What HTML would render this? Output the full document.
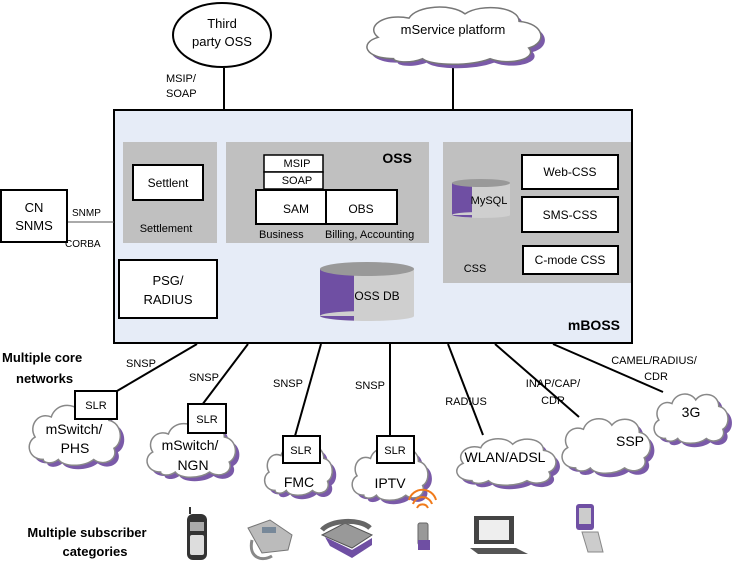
<!DOCTYPE html>
<html><head><meta charset="utf-8"><style>
html,body{margin:0;padding:0;background:#fff}
svg{display:block}
text{font-family:"Liberation Sans",Arial,sans-serif;fill:#000}
</style></head><body>
<svg width="735" height="577" viewBox="0 0 735 577" xmlns="http://www.w3.org/2000/svg">
<defs>
<symbol id="cl" viewBox="0 0 100 60" preserveAspectRatio="none" overflow="visible">
<path d="M20,55 C5,55 2,40 12,35 C5,25 15,12 28,17 C32,5 50,3 57,13 C65,3 85,6 85,20 C98,22 100,40 90,45 C95,55 80,62 70,55 C60,62 40,62 35,55 C28,60 20,58 20,55 Z" vector-effect="non-scaling-stroke"/>
</symbol>
</defs>

<!-- top connectors -->
<line x1="224" y1="68" x2="224" y2="110" stroke="#000" stroke-width="2"/>
<line x1="453" y1="62" x2="453" y2="110" stroke="#000" stroke-width="2"/>
<ellipse cx="222" cy="35" rx="49" ry="32" fill="#fff" stroke="#000" stroke-width="2"/>
<text x="222" y="28" font-size="13" text-anchor="middle">Third</text>
<text x="222" y="46" font-size="13" text-anchor="middle">party OSS</text>
<text x="166" y="82" font-size="11">MSIP/</text>
<text x="166" y="97" font-size="11">SOAP</text>

<use href="#cl" x="359" y="4" width="193" height="64" fill="#7a5aa8" stroke="none"/>
<use href="#cl" x="355" y="0" width="193" height="64" fill="#fff" stroke="#777" stroke-width="1.5"/>
<text x="453" y="34" font-size="13" text-anchor="middle">mService platform</text>

<!-- main box -->
<rect x="114" y="110" width="518" height="233" fill="#e6ecf7" stroke="#000" stroke-width="2"/>
<text x="620" y="330" font-size="14" font-weight="bold" text-anchor="end">mBOSS</text>

<!-- CN SNMS -->
<line x1="67" y1="222" x2="114" y2="222" stroke="#555" stroke-width="1"/>
<rect x="1" y="190" width="66" height="52" fill="#fff" stroke="#000" stroke-width="2"/>
<text x="34" y="212" font-size="13" text-anchor="middle">CN</text>
<text x="34" y="230" font-size="13" text-anchor="middle">SNMS</text>
<text x="72" y="216" font-size="10">SNMP</text>
<text x="65" y="247" font-size="10">CORBA</text>

<!-- Settlement -->
<rect x="123" y="142" width="94" height="101" fill="#c0c0c0"/>
<rect x="133" y="165" width="70" height="35" fill="#fff" stroke="#000" stroke-width="2"/>
<text x="168" y="187" font-size="12" text-anchor="middle">Settlent</text>
<text x="166" y="232" font-size="11" text-anchor="middle">Settlement</text>

<!-- OSS -->
<rect x="226" y="142" width="203" height="101" fill="#c0c0c0"/>
<text x="412" y="163" font-size="14" font-weight="bold" text-anchor="end">OSS</text>
<rect x="264" y="155" width="59" height="17" fill="#fff" stroke="#000" stroke-width="1.5"/>
<rect x="264" y="172" width="59" height="17" fill="#fff" stroke="#000" stroke-width="1.5"/>
<text x="297" y="167" font-size="11" text-anchor="middle">MSIP</text>
<text x="297" y="184" font-size="11" text-anchor="middle">SOAP</text>
<rect x="256" y="190" width="70" height="34" fill="#fff" stroke="#000" stroke-width="2"/>
<rect x="326" y="190" width="71" height="34" fill="#fff" stroke="#000" stroke-width="2"/>
<text x="296" y="213" font-size="12" text-anchor="middle">SAM</text>
<text x="361" y="213" font-size="12" text-anchor="middle">OBS</text>
<text x="259" y="238" font-size="11">Business</text>
<text x="325" y="238" font-size="11">Billing, Accounting</text>

<!-- CSS -->
<rect x="443" y="142" width="188" height="141" fill="#c0c0c0"/>
<rect x="522" y="155" width="96" height="34" fill="#fff" stroke="#000" stroke-width="2"/>
<rect x="522" y="197" width="96" height="35" fill="#fff" stroke="#000" stroke-width="2"/>
<rect x="523" y="246" width="95" height="28" fill="#fff" stroke="#000" stroke-width="2"/>
<text x="570" y="176" font-size="12" text-anchor="middle">Web-CSS</text>
<text x="570" y="219" font-size="12" text-anchor="middle">SMS-CSS</text>
<text x="570" y="264" font-size="12" text-anchor="middle">C-mode CSS</text>
<text x="475" y="272" font-size="11" text-anchor="middle">CSS</text>
<!-- MySQL -->
<rect x="452" y="183" width="58" height="32" fill="#cfcfcf"/>
<rect x="452" y="183" width="20" height="32" fill="#6f4fa3"/>
<ellipse cx="481" cy="215" rx="29" ry="3" fill="#cfcfcf"/>
<path d="M452,215 A29,3 0 0 0 472,217.5 L472,215 Z" fill="#6f4fa3"/>
<ellipse cx="481" cy="183" rx="29" ry="4" fill="#999"/>
<text x="489" y="204" font-size="11" text-anchor="middle">MySQL</text>

<!-- PSG -->
<rect x="119" y="260" width="98" height="58" fill="#fff" stroke="#000" stroke-width="2"/>
<text x="168" y="285" font-size="13" text-anchor="middle">PSG/</text>
<text x="168" y="304" font-size="13" text-anchor="middle">RADIUS</text>

<!-- OSS DB -->
<rect x="320" y="269" width="94" height="47" fill="#cfcfcf"/>
<rect x="320" y="269" width="34" height="47" fill="#6f4fa3"/>
<ellipse cx="367" cy="316" rx="47" ry="5" fill="#cfcfcf"/>
<path d="M320,316 A47,5 0 0 0 354,320.6 L354,316 Z" fill="#6f4fa3"/>
<ellipse cx="367" cy="269" rx="47" ry="7" fill="#999"/>
<text x="377" y="300" font-size="12" text-anchor="middle">OSS DB</text>

<!-- bottom connectors -->
<g stroke="#000" stroke-width="2">
<line x1="197" y1="344" x2="117" y2="391"/>
<line x1="248" y1="344" x2="202" y2="405"/>
<line x1="321" y1="344" x2="295" y2="436"/>
<line x1="390" y1="344" x2="390" y2="436"/>
<line x1="448" y1="344" x2="483" y2="435"/>
<line x1="495" y1="344" x2="579" y2="417"/>
<line x1="553" y1="344" x2="663" y2="392"/>
</g>

<!-- clouds -->
<g>
<use href="#cl" x="27" y="402" width="101" height="67" fill="#7a5aa8"/>
<use href="#cl" x="23" y="398" width="101" height="67" fill="#fff" stroke="#888" stroke-width="1.5"/>
<use href="#cl" x="145" y="421" width="98" height="60" fill="#7a5aa8"/>
<use href="#cl" x="141" y="417" width="98" height="60" fill="#fff" stroke="#888" stroke-width="1.5"/>
<use href="#cl" x="264" y="444" width="75" height="55" fill="#7a5aa8"/>
<use href="#cl" x="260" y="440" width="75" height="55" fill="#fff" stroke="#888" stroke-width="1.5"/>
<use href="#cl" x="351" y="446" width="84" height="58" fill="#7a5aa8"/>
<use href="#cl" x="347" y="442" width="84" height="58" fill="#fff" stroke="#888" stroke-width="1.5"/>
<use href="#cl" x="454" y="437" width="110" height="52" fill="#7a5aa8"/>
<use href="#cl" x="450" y="433" width="110" height="52" fill="#fff" stroke="#888" stroke-width="1.5"/>
<use href="#cl" x="560" y="416" width="98" height="61" fill="#7a5aa8"/>
<use href="#cl" x="556" y="412" width="98" height="61" fill="#fff" stroke="#888" stroke-width="1.5"/>
<use href="#cl" x="653" y="392" width="82" height="55" fill="#7a5aa8"/>
<use href="#cl" x="649" y="388" width="82" height="55" fill="#fff" stroke="#888" stroke-width="1.5"/>
</g>

<!-- SLR boxes -->
<g fill="#fff" stroke="#000" stroke-width="2">
<rect x="75" y="391" width="42" height="28"/>
<rect x="188" y="404" width="38" height="29"/>
<rect x="283" y="436" width="37" height="27"/>
<rect x="377" y="436" width="37" height="27"/>
</g>
<g font-size="11" text-anchor="middle">
<text x="96" y="409">SLR</text>
<text x="207" y="423">SLR</text>
<text x="301" y="454">SLR</text>
<text x="395" y="454">SLR</text>
</g>

<g font-size="14" text-anchor="middle">
<text x="74" y="434">mSwitch/</text>
<text x="75" y="453">PHS</text>
<text x="190" y="450">mSwitch/</text>
<text x="193" y="470">NGN</text>
<text x="299" y="487">FMC</text>
<text x="390" y="488">IPTV</text>
<text x="505" y="462">WLAN/ADSL</text>
<text x="630" y="446">SSP</text>
<text x="691" y="417">3G</text>
</g>

<g font-size="11" text-anchor="middle">
<text x="141" y="367">SNSP</text>
<text x="204" y="381">SNSP</text>
<text x="288" y="387">SNSP</text>
<text x="370" y="389">SNSP</text>
<text x="466" y="405">RADIUS</text>
<text x="553" y="387">INAP/CAP/</text>
<text x="553" y="404">CDR</text>
<text x="654" y="364">CAMEL/RADIUS/</text>
<text x="656" y="380">CDR</text>
</g>

<text x="2" y="362" font-size="13" font-weight="bold">Multiple core</text>
<text x="16" y="383" font-size="13" font-weight="bold">networks</text>
<text x="87" y="537" font-size="13" font-weight="bold" text-anchor="middle">Multiple subscriber</text>
<text x="95" y="556" font-size="13" font-weight="bold" text-anchor="middle">categories</text>

<!-- devices -->
<!-- mobile 1 -->
<rect x="187" y="514" width="20" height="46" rx="6" fill="#333"/>
<rect x="190" y="522" width="14" height="9" fill="#aaa"/>
<g fill="#ddd"><rect x="190" y="535" width="14" height="20" rx="2"/></g>
<line x1="190" y1="514" x2="190" y2="507" stroke="#333" stroke-width="2"/>
<!-- desk phone 1 -->
<path d="M248,528 L270,520 L292,535 L288,550 L262,553 Z" fill="#bbb" stroke="#777"/>
<path d="M252,540 C248,558 262,562 272,556" fill="none" stroke="#888" stroke-width="3"/>
<rect x="262" y="527" width="14" height="6" fill="#789"/>
<!-- desk phone 2 -->
<path d="M322,535 L345,523 L372,535 L352,548 Z" fill="#999" stroke="#555"/>
<path d="M325,537 L352,550 L372,538 L372,545 L352,558 L330,546 Z" fill="#6f4fa3"/>
<path d="M322,530 C330,520 360,518 370,528" fill="none" stroke="#666" stroke-width="5"/>
<!-- cordless with waves -->
<g fill="none" stroke="#f07a1a" stroke-width="2">
<path d="M413,504 A10,10 0 0 1 432,504"/>
<path d="M409,500 A14,14 0 0 1 436,500"/>
<path d="M417,508 A6,6 0 0 1 428,508"/>
</g>
<rect x="418" y="523" width="10" height="22" rx="2" fill="#999" stroke="#666"/>
<rect x="418" y="540" width="12" height="10" fill="#6f4fa3"/>
<!-- laptop -->
<rect x="474" y="516" width="40" height="28" fill="#444"/>
<rect x="479" y="520" width="30" height="20" fill="#eee"/>
<path d="M470,548 L516,548 L528,554 L478,554 Z" fill="#555"/>
<!-- flip phone -->
<rect x="576" y="504" width="18" height="26" rx="3" fill="#6f4fa3"/>
<rect x="579" y="508" width="12" height="16" fill="#ccc"/>
<path d="M582,532 L598,532 L603,552 L588,552 Z" fill="#ccc" stroke="#888"/>
</svg>
</body></html>
